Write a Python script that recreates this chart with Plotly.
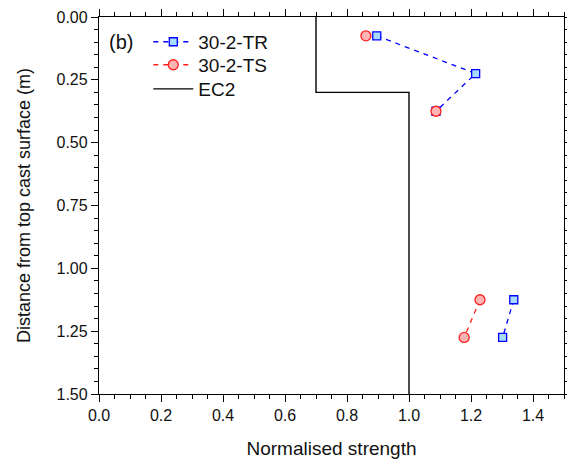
import plotly.graph_objects as go

depth = [0.075, 0.225, 0.375, None, 1.125, 1.275]
tr_strength = [0.896, 1.215, 1.087, None, 1.338, 1.302]
ts_strength = [0.861, None, 1.087, None, 1.229, 1.178]
ec2_x = [0.7, 0.7, 1.0, 1.0]
ec2_y = [0.0, 0.3, 0.3, 1.5]

FONT = "Liberation Sans, Arial"

fig = go.Figure()
fig.add_trace(go.Scatter(
    x=tr_strength, y=depth, name="30-2-TR", mode="lines+markers", legend="legend",
    line=dict(color="#0000ff", width=1.3, dash="5px,5px"),
    marker=dict(symbol="square", size=8, color="#a8dcff", line=dict(color="#0000ff", width=1.3)),
    connectgaps=False))
fig.add_trace(go.Scatter(
    x=ts_strength, y=depth, name="30-2-TS", mode="lines+markers", legend="legend2",
    line=dict(color="#ff2020", width=1.3, dash="5px,5px"),
    marker=dict(symbol="circle", size=10, color="#ffb4b4", line=dict(color="#ff2020", width=1.3)),
    connectgaps=False))
fig.add_trace(go.Scatter(
    x=ec2_x, y=ec2_y, name="EC2", mode="lines", legend="legend3",
    line=dict(color="black", width=1.4)))

axis_common = dict(
    showline=True, linecolor="black", linewidth=1.3, mirror="ticks",
    ticks="outside", ticklen=7, tickwidth=1.3, tickcolor="black",
    showgrid=False, zeroline=False, automargin=False,
    tickfont=dict(family=FONT, size=16, color="#111111"),
)

leg_common = dict(x=0.106, xanchor="left", yanchor="middle", bgcolor="rgba(0,0,0,0)",
                  font=dict(size=19), itemwidth=40)

fig.update_layout(
    width=567, height=456,
    margin=dict(l=91, r=11, t=9, b=70),
    paper_bgcolor="white", plot_bgcolor="white",
    font=dict(family=FONT, size=16, color="#111111"),
    xaxis=dict(range=[0, 1.5], dtick=0.2, tick0=0, tickformat=".1f",
               minor=dict(dtick=0.05, ticks="outside", ticklen=4, tickcolor="black", tickwidth=1.1),
               title=dict(text="Normalised strength", font=dict(size=19), standoff=18),
               **axis_common),
    yaxis=dict(range=[1.5, 0], dtick=0.25, tick0=0, tickformat=".2f",
               minor=dict(dtick=0.05, ticks="outside", ticklen=4, tickcolor="black", tickwidth=1.1),
               title=dict(text="Distance from top cast surface (m)", font=dict(size=18), standoff=21),
               **axis_common),
    legend=dict(y=0.934, **leg_common),
    legend2=dict(y=0.873, **leg_common),
    legend3=dict(y=0.809, **leg_common),
    showlegend=True,
    annotations=[dict(text="(b)", x=0.018, y=0.934, xref="paper", yref="paper",
                      xanchor="left", yanchor="middle", showarrow=False, font=dict(size=20))],
)

fig.write_html("out.html")
